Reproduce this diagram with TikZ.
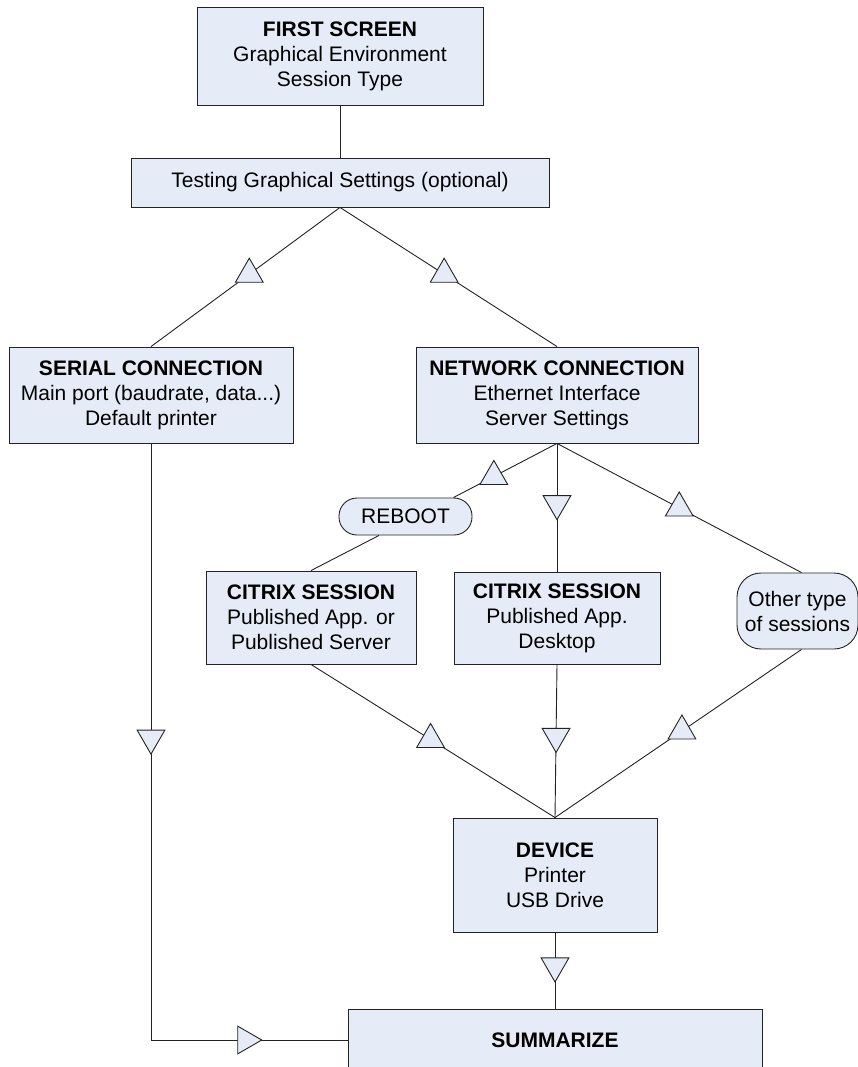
\documentclass[tikz,border=0pt]{standalone}
\usepackage{fontspec}
\setmainfont{Liberation Sans}
\usetikzlibrary{shapes.geometric}
\definecolor{boxfill}{RGB}{230,236,247}
\definecolor{edgecol}{RGB}{35,35,35}
\tikzset{
  box/.style={draw=edgecol, fill=boxfill, line width=0.9pt, inner sep=0pt, align=center,
              font=\fontsize{21}{25}\selectfont},
  tri/.style={draw=edgecol, fill=boxfill, line width=0.9pt, regular polygon, regular polygon sides=3,
              minimum size=32pt, inner sep=0pt},
  triup/.style={tri},
  tridown/.style={tri, shape border rotate=180},
  triright/.style={tri, shape border rotate=-90},
  conn/.style={draw=edgecol, line width=0.9pt},
}
\begin{document}
\begin{tikzpicture}[x=1pt,y=-1pt]
\clip (0,0) rectangle (858,1067);
\fill[white] (0,0) rectangle (858,1067);

\node[box, minimum width=286pt, minimum height=98pt] (first) at (340,56)
  {\textbf{FIRST SCREEN}\\Graphical Environment\\Session Type};
\node[box, minimum width=418pt, minimum height=49pt] (test) at (340,182.5)
  {Testing Graphical Settings (optional)};
\node[box, minimum width=284pt, minimum height=96pt] (serial) at (151,395)
  {\textbf{SERIAL CONNECTION}\\Main port (baudrate, data...)\\Default printer};
\node[box, minimum width=282pt, minimum height=96pt] (net) at (557,395)
  {\textbf{NETWORK CONNECTION}\\Ethernet Interface\\Server Settings};
\node[box, rounded corners=18pt, minimum width=133pt, minimum height=37pt] (reboot) at (405.5,516.5)
  {REBOOT};
\node[box, minimum width=210pt, minimum height=93pt] (cit1) at (311,617.5)
  {\textbf{CITRIX SESSION}\\Published App. or\\Published Server};
\node[box, minimum width=206pt, minimum height=92pt] (cit2) at (557,618)
  {\textbf{CITRIX SESSION}\\Published App.\\Desktop};
\node[box, rounded corners=24pt, minimum width=121pt, minimum height=76pt] (other) at (797.5,611)
  {Other type\\of sessions};
\node[box, minimum width=204pt, minimum height=114pt] (dev) at (555,875)
  {\textbf{DEVICE}\\Printer\\USB Drive};
\node[box, minimum width=414pt, minimum height=62pt] (summ) at (555,1040)
  {\textbf{SUMMARIZE}};

\draw[conn] (first.south) -- (test.north);
\draw[conn] (test.south) -- node[triup, pos=0.48]{} (serial.north);
\draw[conn] (test.south) -- node[triup, pos=0.48]{} (net.north);
\draw[conn] (net.south) -- node[triup, pos=0.61]{} ([xshift=-19pt]reboot.north east);
\draw[conn] ([xshift=-26.5pt]reboot.south) -- (cit1.north);
\draw[conn] (net.south) -- node[tridown, pos=0.47]{} (cit2.north);
\draw[conn] (net.south) -- node[triup, pos=0.5]{} ([xshift=4pt]other.north);
\draw[conn] (cit1.south) -- node[triup, pos=0.49]{} (dev.north);
\draw[conn] (cit2.south) -- node[tridown, pos=0.47]{} (dev.north);
\draw[conn] ([xshift=4pt]other.south) -- node[triup, pos=0.485]{} (dev.north);
\draw[conn] (dev.south) -- node[tridown, pos=0.44]{} (summ.north);
\draw[conn] (serial.south) |- node[tridown, pos=0.247]{} node[triright, pos=0.741]{} (summ.west);
\end{tikzpicture}
\end{document}
